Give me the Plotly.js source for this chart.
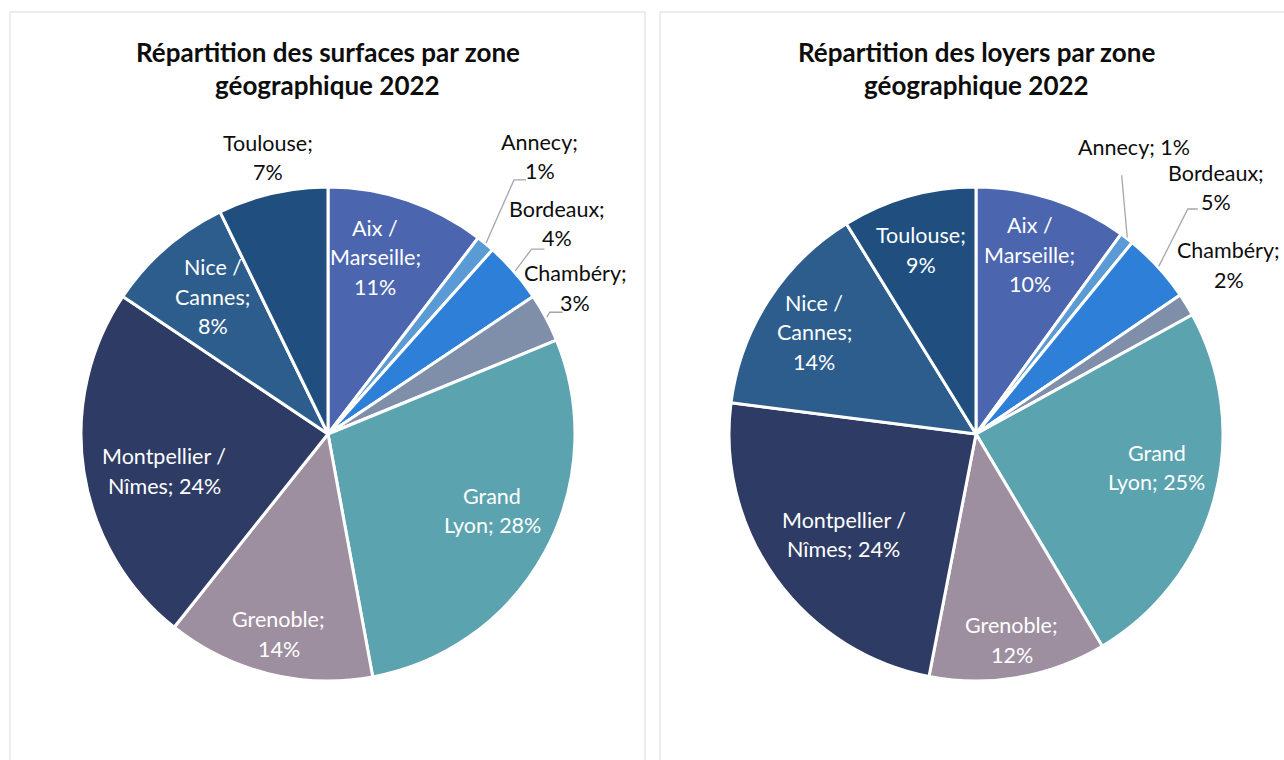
<!DOCTYPE html>
<html>
<head>
<meta charset="utf-8">
<script src="https://cdn.plot.ly/plotly-3.0.1.min.js"></script>
<style>
html,body{margin:0;padding:0;background:#fff;}
#chart{width:1284px;height:760px;}
</style>
</head>
<body>
<div id="chart"></div>
<script>
// ---------- DATA ----------
const zones = ["Aix / Marseille", "Annecy", "Bordeaux", "Chambéry", "Grand Lyon", "Grenoble", "Montpellier / Nîmes", "Nice / Cannes", "Toulouse"];
const surfaces = [10.4, 1.2, 4.0, 3.2, 28.3, 13.6, 23.7, 8.4, 7.2];
const loyers = [10.0, 0.9, 4.6, 1.5, 24.5, 11.6, 24.0, 14.2, 8.8];
const surfacesLabels = [["Aix /", "Marseille;", "11%"], ["Annecy;", "1%"], ["Bordeaux;", "4%"], ["Chambéry;", "3%"], ["Grand", "Lyon; 28%"], ["Grenoble;", "14%"], ["Montpellier /", "Nîmes; 24%"], ["Nice /", "Cannes;", "8%"], ["Toulouse;", "7%"]];
const loyersLabels = [["Aix /", "Marseille;", "10%"], ["Annecy; 1%"], ["Bordeaux;", "5%"], ["Chambéry;", "2%"], ["Grand", "Lyon; 25%"], ["Grenoble;", "12%"], ["Montpellier /", "Nîmes; 24%"], ["Nice /", "Cannes;", "14%"], ["Toulouse;", "9%"]];
const titleSurfaces = ["Répartition des surfaces par zone", "géographique 2022"];
const titleLoyers = ["Répartition des loyers par zone", "géographique 2022"];

// ---------- STYLE ----------
const W = 1284, H = 760;
const colors = ["#4B65AF", "#5B9BD5", "#2E7FD8", "#7F8FAA", "#5BA3AF", "#9E8FA0", "#2E3B64", "#2C5D8C", "#1F4E7F"];
const FONT = "Lato, 'Liberation Sans', sans-serif";
const pies = [
  {cx: 328, cy: 434, R: 247, values: surfaces, labels: surfacesLabels, title: titleSurfaces,
   insideFlags: [true, false, false, false, true, true, true, true, false],
   lr: [0.74, 1.413, 1.259, 1.162, 0.733, 0.834, 0.68, 0.725, 1.146],
   la: [-3.8, -2.2, -1.5, -2.5, -3.7, -0.2, -3.9, 1.0, 0.8],
   leaders: {1: [1.275, -3.4, 12], 2: [1.113, -1.2, 13], 3: [1.024, -0.7, 13]}},
  {cx: 976, cy: 434, R: 247, values: loyers, labels: loyersLabels, title: titleLoyers,
   insideFlags: [true, false, false, false, true, true, true, true, true],
   lr: [0.757, 1.328, 1.393, 1.231, 0.745, 0.846, 0.672, 0.773, 0.777],
   la: [-1.2, -8.8, -3.2, -2.2, -4.7, 0.1, -1.3, -0.7, -0.8],
   leaders: {1: [1.202, -8.2, 0], 2: [1.251, -4.2, 10]}}
];
const lineH = 29.5;
const labelSize = 21.5;
const titleSize = 26;

const px = x => x / W;
const py = y => 1 - y / H;
const polar = (p, r, degs) => {
  const t = degs * Math.PI / 180;
  return [p.cx + r * Math.sin(t), p.cy - r * Math.cos(t)];
};

const traces = [];
const annotations = [];
const shapes = [
  {type: "rect", xref: "paper", yref: "paper", x0: px(10), x1: px(645), y0: py(12), y1: py(775),
   line: {color: "#D9D9D9", width: 1}, fillcolor: "rgba(0,0,0,0)", layer: "below"},
  {type: "rect", xref: "paper", yref: "paper", x0: px(660), x1: px(1295), y0: py(12), y1: py(775),
   line: {color: "#D9D9D9", width: 1}, fillcolor: "rgba(0,0,0,0)", layer: "below"}
];

pies.forEach(p => {
  traces.push({
    type: "pie",
    values: p.values,
    labels: zones,
    sort: false,
    direction: "clockwise",
    rotation: 0,
    textinfo: "none",
    hoverinfo: "label+percent",
    marker: {colors: colors, line: {color: "#FFFFFF", width: 3}},
    domain: {x: [px(p.cx - p.R), px(p.cx + p.R)], y: [py(p.cy + p.R), py(p.cy - p.R)]},
    showlegend: false
  });
  const total = p.values.reduce((a, b) => a + b, 0);
  let cum = 0;
  p.values.forEach((v, i) => {
    const mid = (cum + v / 2) / total * 360;
    cum += v;
    const [tx, ty] = polar(p, p.lr[i] * p.R, mid + p.la[i]);
    const lines = p.labels[i];
    const n = lines.length;
    lines.forEach((ln, k) => {
      annotations.push({
        xref: "paper", yref: "paper", x: px(tx), y: py(ty + (k - (n - 1) / 2) * lineH),
        xanchor: "center", yanchor: "middle", showarrow: false, text: ln,
        font: {family: FONT, size: labelSize, color: p.insideFlags[i] ? "#FFFFFF" : "#0D0D0D"}
      });
    });
    const ld = p.leaders[i];
    if (ld) {
      const s = polar(p, p.R + 1, mid);
      const e = polar(p, ld[0] * p.R, mid + ld[1]);
      let path = `M ${px(s[0])} ${py(s[1])} L ${px(e[0])} ${py(e[1])}`;
      if (ld[2] > 0) path += ` L ${px(e[0] + ld[2])} ${py(e[1])}`;
      shapes.push({type: "path", xref: "paper", yref: "paper", path: path,
        line: {color: "#A6A6A6", width: 1.3}});
    }
  });
  p.title.forEach((t, k) => {
    annotations.push({
      xref: "paper", yref: "paper", x: px(p.cx), y: py(52 + k * 33),
      xanchor: "center", yanchor: "middle", showarrow: false, text: "<b>" + t + "</b>",
      font: {family: FONT, size: titleSize, color: "#0D0D0D"}
    });
  });
});

const layout = {
  width: W, height: H,
  margin: {l: 0, r: 0, t: 0, b: 0},
  paper_bgcolor: "#FFFFFF",
  plot_bgcolor: "#FFFFFF",
  showlegend: false,
  annotations: annotations,
  shapes: shapes,
  font: {family: FONT}
};

Plotly.newPlot("chart", traces, layout, {displayModeBar: false, staticPlot: true});
</script>
</body>
</html>
